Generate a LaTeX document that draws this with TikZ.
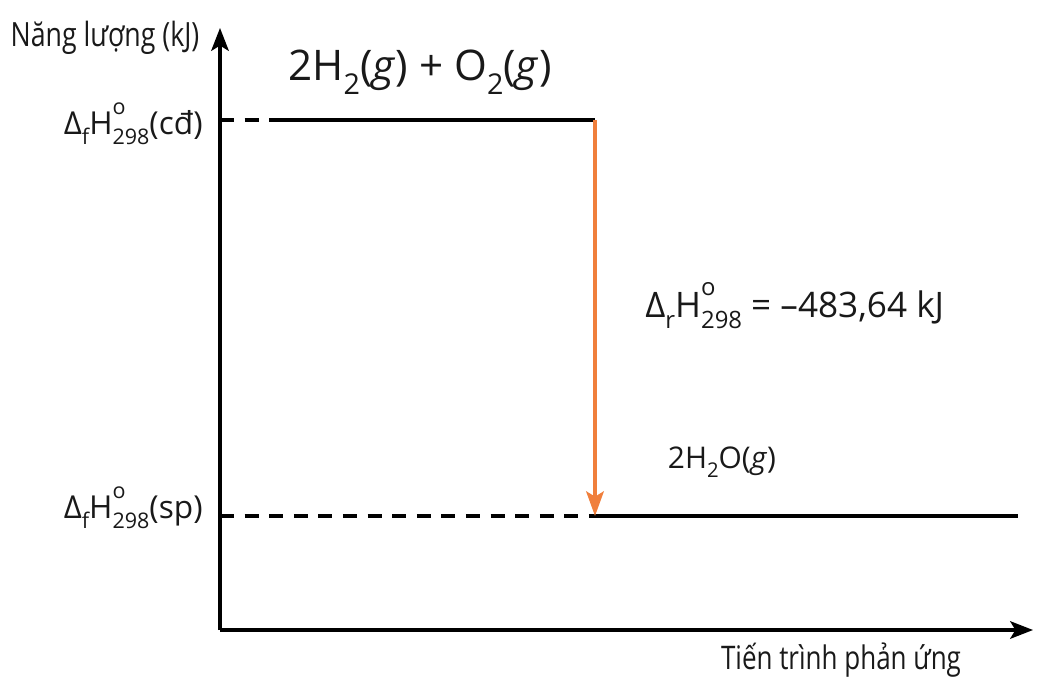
\documentclass[tikz,border=0pt]{standalone}
\usepackage{fontspec}
\setmainfont{Open Sans}
\newfontfamily\condfont[FakeStretch=0.8]{Open Sans}
\usetikzlibrary{arrows.meta}
\definecolor{arroworange}{HTML}{F07F3C}
\newcommand{\chsub}[1]{\raisebox{-0.32em}{\scalebox{0.68}{#1}}}
\newcommand{\chsup}[1]{\raisebox{0.62em}{\scalebox{0.68}{#1}}}
\newcommand{\Hnot}[1]{H\rlap{\chsup{o}}\chsub{#1}}

\begin{document}
\begin{tikzpicture}[
    x=0.02cm, y=-0.02cm,
    axis/.style={line width=1.9pt, -{Stealth[length=13pt, width=10pt, inset=3pt]}},
    level/.style={line width=2.1pt},
    levdash/.style={line width=2.1pt, dash pattern=on 8pt off 6pt},
    dh/.style={line width=2.1pt, arroworange, -{Stealth[length=14pt, width=10pt, inset=3pt]}},
    lbl/.style={inner sep=0pt, text=black!90}
]
\useasboundingbox (0,0) rectangle (1051,685);

% axes
\coordinate (O) at (220,630);
\coordinate (ytop) at (220,28);
\coordinate (xend) at (1033,630);
\draw[axis] (O) -- (ytop);
\draw[axis] (O) -- (xend);
\node[lbl, font=\condfont\fontsize{19}{22}\selectfont] (ylab) at (105,38) {Năng lượng (kJ)};
\node[lbl, font=\condfont\fontsize{18.5}{22}\selectfont] (xlab) at (841,660) {Tiến trình phản ứng};

% levels
\coordinate (r0) at (220,120);
\coordinate (r1) at (270,120);
\coordinate (ts) at (595,120);
\coordinate (p0) at (220,516);
\coordinate (pb) at (595,516);
\coordinate (p1) at (1018,516);
\draw[levdash] (r0) -- (r1);
\draw[level] (r1) -- (ts);
\draw[levdash] (p0) -- (pb);
\draw[level] (pb) -- (p1);
\draw[dh] (ts) -- (pb);

% labels
\node[lbl, font=\fontsize{24}{28}\selectfont] (react) at (420,72) {2H\chsub{2}(\textit{g}) + O\chsub{2}(\textit{g})};
\node[lbl, font=\fontsize{17}{20}\selectfont] (prod) at (722,462) {2H\chsub{2}O(\textit{g})};
\node[lbl, anchor=east, font=\fontsize{18}{22}\selectfont] (cd) at (203,124) {Δ\chsub{f}\Hnot{298}(cđ)};
\node[lbl, anchor=east, font=\fontsize{18}{22}\selectfont] (sp) at (203,508) {Δ\chsub{f}\Hnot{298}(sp)};
\node[lbl, anchor=west, font=\fontsize{20}{24}\selectfont] (dH) at (645,306) {Δ\chsub{r}\Hnot{298} = –483,64 kJ};
\end{tikzpicture}
\end{document}
